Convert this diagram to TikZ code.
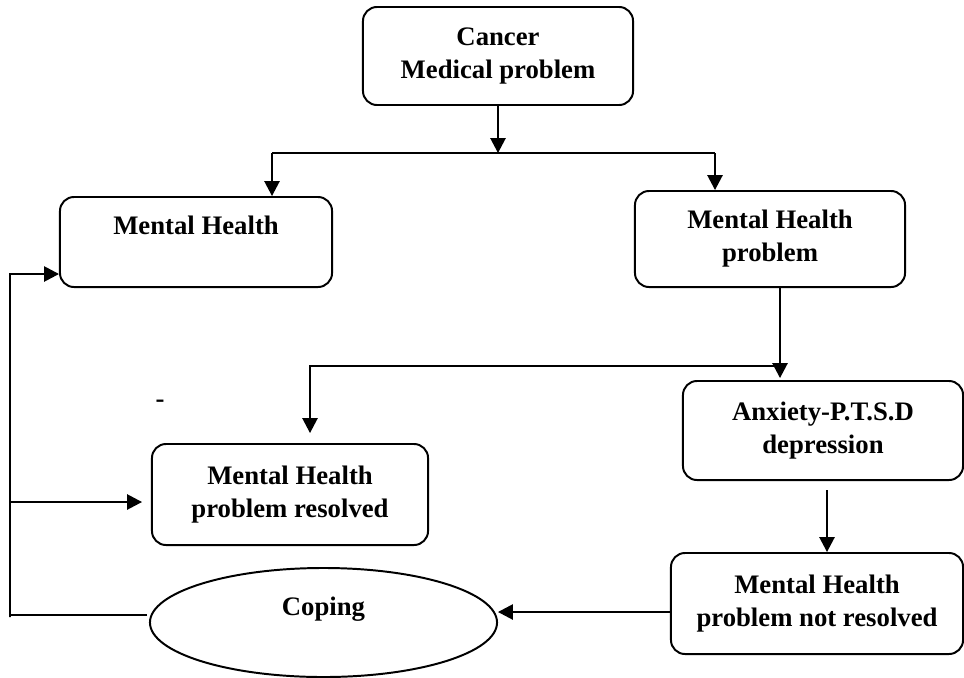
\documentclass[tikz,border=0pt]{standalone}
\usepackage{fontspec}
\setmainfont{Liberation Serif}
\usetikzlibrary{arrows.meta}
\usetikzlibrary{shapes}
\usetikzlibrary{calc}

\begin{document}
\begin{tikzpicture}[x=.025cm, y=-.025cm, >={Triangle[length=.37cm, width=.38cm]},
stage/.style={draw, rounded corners=.35cm, line width=1.4pt, inner sep=0, align=center, font=\bfseries\fontsize{19}{23.5}\selectfont},
outcome/.style={draw, ellipse, line width=1.4pt, inner sep=0, align=center, font=\bfseries\fontsize{19}{23.5}\selectfont},
flow/.style={->, line width=1.1pt},
link/.style={line width=1.1pt},
note/.style={inner sep=0, font=\bfseries\fontsize{19}{23.5}\selectfont}]
\useasboundingbox (0,0) rectangle (964,677);
\node[stage, minimum width=6.75cm, minimum height=2.45cm] (cancer) at (498,56) {Cancer\\Medical problem};
\node[stage, minimum width=6.8cm, minimum height=2.25cm] (mh) at (196,242) {Mental Health\\~};
\node[stage, minimum width=6.75cm, minimum height=2.4cm] (mhp) at (770,239) {Mental Health\\problem};
\node[stage, minimum width=7cm, minimum height=2.475cm] (anx) at (823,430.5) {Anxiety-P.T.S.D\\depression};
\node[stage, minimum width=6.9cm, minimum height=2.525cm] (res) at (290,494.5) {Mental Health\\problem resolved};
\node[stage, minimum width=7.3cm, minimum height=2.525cm] (notres) at (817,603.5) {Mental Health\\problem not resolved};
\node[outcome, minimum width=8.675cm, minimum height=2.725cm] (coping) at (323.5,622.5) {Coping\\~};
\node[note] (dash) at (160,404) {-};
\coordinate (split) at (498,153);
\coordinate (toL) at (272,153);
\coordinate (toR) at (715,153);
\coordinate (bend) at (780,366);
\coordinate (bendL) at (310,366);
\coordinate (anxIn) at (780,378);
\coordinate (resIn) at (310,433);
\coordinate (anxOut) at (827,490);
\coordinate (copIn) at (498,612);
\coordinate (copOut) at (147,615);
\coordinate (loopB) at (10,617);
\coordinate (loopT) at (10,274);
\coordinate (loopM) at (10,502);
\coordinate (resTip) at (142,502);
\draw[flow] (cancer) -- (split);
\draw[link] (toL) -- (toR);
\draw[flow] (toL) -- (toL |- mh.north);
\draw[flow] (toR) -- (toR |- mhp.north);
\draw[flow] (bend |- mhp.south) -- (anxIn);
\draw[flow] (bend) -- (bendL) -- (resIn);
\draw[flow] (anxOut) -- (anxOut |- notres.north);
\draw[flow] (notres.west |- copIn) -- (copIn);
\draw[flow] (copOut) -- (loopB |- copOut) -- (loopB) -- (loopT) -- (loopT -| mh.west);
\draw[flow] (loopM) -- (resTip);
\end{tikzpicture}
\end{document}
